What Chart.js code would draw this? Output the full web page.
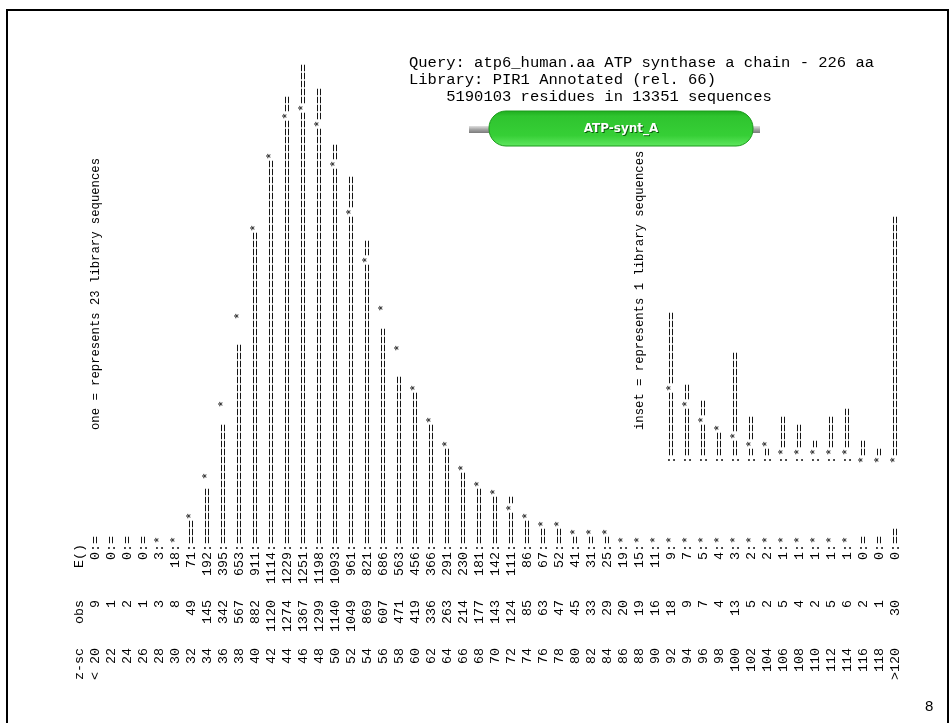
<!DOCTYPE html>
<html>
<head>
<meta charset="utf-8">
<title>atp6_human.aa histogram</title>
<script src="https://cdn.jsdelivr.net/npm/chart.js@4.4.1/dist/chart.umd.min.js"></script>
<style>
    html, body { margin: 0; padding: 0; background: #fff; }
    #page { position: relative; width: 951px; height: 723px; }
    canvas { display: block; }
</style>
</head>
<body>
<div id="page"><canvas id="histogram" width="951" height="723"></canvas></div>
<script>
"use strict";

// z-score bins, observed counts and expected counts
var zScores = ['< 20', '22', '24', '26', '28', '30', '32', '34', '36', '38', '40', '42', '44', '46', '48', '50',
    '52', '54', '56', '58', '60', '62', '64', '66', '68', '70', '72', '74', '76', '78', '80', '82', '84', '86',
    '88', '90', '92', '94', '96', '98', '100', '102', '104', '106', '108', '110', '112', '114', '116', '118', '>120'];
var observed = [9, 1, 2, 1, 3, 8, 49, 145, 342, 567, 882, 1120, 1274, 1367, 1299, 1140, 1049, 869, 607, 471,
    419, 336, 263, 214, 177, 143, 124, 85, 63, 47, 45, 33, 29, 20, 19, 16, 18, 9, 7, 4,
    13, 5, 2, 5, 4, 2, 5, 6, 2, 1, 30];
var expected = [0, 0, 0, 0, 3, 18, 71, 192, 395, 653, 911, 1114, 1229, 1251, 1198, 1093, 961, 821, 686, 563,
    456, 366, 291, 230, 181, 142, 111, 86, 67, 52, 41, 31, 25, 19, 15, 11, 9, 7, 5, 4,
    3, 2, 2, 1, 1, 1, 1, 1, 0, 0, 0];

var perChar = 23;        // one '=' stands for this many sequences
var insetPerChar = 1;    // inset: one '=' per sequence
var insetFrom = '92';    // first bin shown in the inset

var headerLines = [
    'Query: atp6_human.aa ATP synthase a chain - 226 aa',
    'Library: PIR1 Annotated (rel. 66)',
    '    5190103 residues in 13351 sequences'
];
var domainName = 'ATP-synt_A';
var pageNumber = '8';

var monoFont = '"Courier New", "Liberation Mono", monospace';

var insetStart = zScores.indexOf(insetFrom);
var insetObserved = observed.map(function (v, i) { return i >= insetStart ? v : null; });

function pad(s, n) {
    s = String(s);
    while (s.length < n) s = ' ' + s;
    return s;
}

// draws the histogram as rotated text, one line per bin
var fastaText = {
    id: 'fastaText',
    beforeDraw: function (chart) {
        var ctx = chart.ctx;
        ctx.save();
        ctx.fillStyle = '#fff';
        ctx.fillRect(0, 0, chart.width, chart.height);
        ctx.strokeStyle = '#000';
        ctx.lineWidth = 2;
        ctx.strokeRect(7, 10, 941, 740);
        ctx.restore();
    },
    afterDatasetsDraw: function (chart) {
        var ctx = chart.ctx;
        var xs = chart.scales.x, ys = chart.scales.y, ys2 = chart.scales.y2;
        var base = ys.getPixelForValue(0);
        var cell = base - ys.getPixelForValue(perChar);
        var base2 = ys2.getPixelForValue(0);
        var rowStep = xs.getPixelForValue(1) - xs.getPixelForValue(0);
        var insetCol = 17 + Math.round((base - base2) / cell);

        // bottom edge of text column c (col 17 is the first bar character)
        function edge(c) { return base + cell * (17 - c); }

        function putAt(str, x, y) {
            ctx.save();
            ctx.translate(x, y);
            ctx.rotate(-Math.PI / 2);
            ctx.textAlign = 'left';
            ctx.textBaseline = 'middle';
            ctx.fillText(str, 0, 0.5);
            ctx.restore();
        }
        function put(str, x, col) { putAt(str, x, edge(col)); }

        ctx.save();
        ctx.fillStyle = '#000';
        ctx.font = (cell / 0.6) + 'px ' + monoFont;

        put('z-sc   obs    E()', xs.getPixelForValue(0) - rowStep, 0);

        var main = chart.getDatasetMeta(0).data;
        var inset = chart.getDatasetMeta(1).data;

        zScores.forEach(function (z, i) {
            var el = main[i];
            var x = el.x;
            put(pad(z, 4) + pad(observed[i], 6) + pad(expected[i], 6) + ':', x, 0);

            var n = Math.ceil((el.base - el.y) / cell - 1e-6);
            var star = expected[i] > 0 ? Math.ceil((base - ys.getPixelForValue(expected[i])) / cell - 1e-6) - 1 : -1;
            var len = Math.max(n, star + 1);
            var bar = '';
            for (var k = 0; k < len; k++) bar += k === star ? '*' : (k < n ? '=' : ' ');
            put(bar, x, 17);

            if (insetObserved[i] !== null) {
                var ie = inset[i];
                var n2 = Math.ceil((ie.base - ie.y) / cell - 1e-6);
                var star2 = Math.ceil((base2 - ys2.getPixelForValue(expected[i])) / cell - 1e-6) - 1;
                var s = star2 < 0 ? '*' : ':';
                var len2 = Math.max(n2, star2 + 1);
                for (var j = 0; j < len2; j++) s += j === star2 ? '*' : (j < n2 ? '=' : ' ');
                put(s, ie.x, insetCol - 1);
            }
        });

        // scale notes, set a little tighter than the bars
        ctx.font = '12.25px ' + monoFont;
        var noteY = base2 - 26;
        putAt('one = represents ' + perChar + ' library sequences', xs.getPixelForValue(0), noteY);
        putAt('inset = represents ' + insetPerChar + ' library sequences', xs.getPixelForValue(insetStart - 2), noteY);
        ctx.restore();
    },
    afterDraw: function (chart) {
        var ctx = chart.ctx;
        ctx.save();

        // query / library header
        ctx.fillStyle = '#000';
        ctx.font = '15.5px ' + monoFont;
        ctx.textBaseline = 'alphabetic';
        headerLines.forEach(function (line, i) {
            ctx.fillText(line, 409, 67 + i * 17);
        });

        // domain graphic
        var g = ctx.createLinearGradient(0, 126, 0, 133);
        g.addColorStop(0, '#e0e0e0');
        g.addColorStop(0.5, '#a4a4a4');
        g.addColorStop(1, '#7a7a7a');
        ctx.fillStyle = g;
        ctx.fillRect(469, 126, 291, 7);

        var px = 489, py = 111, pw = 264, ph = 35, r = 17;
        var pg = ctx.createLinearGradient(0, py, 0, py + ph);
        pg.addColorStop(0, '#1fae1f');
        pg.addColorStop(0.15, '#2fc42f');
        pg.addColorStop(0.7, '#36cf36');
        pg.addColorStop(1, '#5ee65e');
        ctx.beginPath();
        ctx.roundRect(px, py, pw, ph, r);
        ctx.fillStyle = pg;
        ctx.fill();
        ctx.strokeStyle = '#1a9a1a';
        ctx.lineWidth = 1;
        ctx.stroke();

        ctx.font = 'bold 12px "DejaVu Sans", sans-serif';
        ctx.textAlign = 'center';
        ctx.textBaseline = 'middle';
        ctx.fillStyle = '#0b5e0b';
        ctx.fillText(domainName, px + pw / 2 + 1, py + ph / 2 + 1);
        ctx.fillStyle = '#fff';
        ctx.fillText(domainName, px + pw / 2, py + ph / 2);

        // page number
        ctx.fillStyle = '#000';
        ctx.font = '15px "Liberation Sans", Arial, sans-serif';
        ctx.textAlign = 'left';
        ctx.textBaseline = 'alphabetic';
        ctx.fillText(pageNumber, 925, 711);
        ctx.restore();
    }
};

var chart = new Chart(document.getElementById('histogram').getContext('2d'), {
    type: 'bar',
    data: {
        labels: zScores,
        datasets: [{
            label: 'obs',
            data: observed,
            yAxisID: 'y',
            grouped: false,
            backgroundColor: 'rgba(0,0,0,0)',
            borderWidth: 0
        }, {
            label: 'inset',
            data: insetObserved,
            yAxisID: 'y2',
            grouped: false,
            backgroundColor: 'rgba(0,0,0,0)',
            borderWidth: 0
        }]
    },
    options: {
        responsive: false,
        animation: false,
        devicePixelRatio: 1,
        layout: { padding: { left: 87, right: 48, top: 24, bottom: 179 } },
        plugins: {
            legend: { display: false },
            tooltip: { enabled: false },
            title: { display: false }
        },
        scales: {
            x: { type: 'category', display: false, offset: true },
            y: { type: 'linear', display: false, min: 0, max: 1495 },
            y2: { type: 'linear', display: false, min: -11, max: 54 }
        }
    },
    plugins: [fastaText]
});
</script>
</body>
</html>
